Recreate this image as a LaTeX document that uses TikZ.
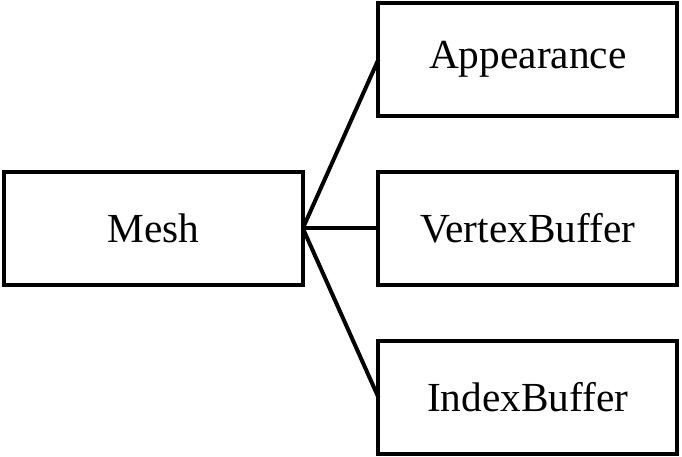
\documentclass[tikz,border=0pt]{standalone}
\usepackage{fontspec}
\setmainfont{Liberation Serif}
\begin{document}
\begin{tikzpicture}[x=0.75pt,y=-0.75pt,
  box/.style={draw, line width=3pt, minimum width=224pt, minimum height=84.4pt,
    outer sep=0pt, inner sep=0pt, font=\fontsize{31}{37}\selectfont},
  link/.style={line width=3pt}]
  \useasboundingbox (0,0) rectangle (682,457);

  % Boxes
  \node[box] (mesh) at (153.5,228.3) {Mesh};
  \node[box] (appearance) at (527.8,59.3) {Appearance};
  \node[box] (vertexbuf) at (527.8,228.3) {VertexBuffer};
  \node[box] (indexbuf) at (527.8,397.5) {IndexBuffer};

  % Links from the mesh
  \draw[link] (mesh.east) -- (appearance.west);
  \draw[link] (mesh.east) -- (vertexbuf.west);
  \draw[link] (mesh.east) -- (indexbuf.west);
\end{tikzpicture}
\end{document}
